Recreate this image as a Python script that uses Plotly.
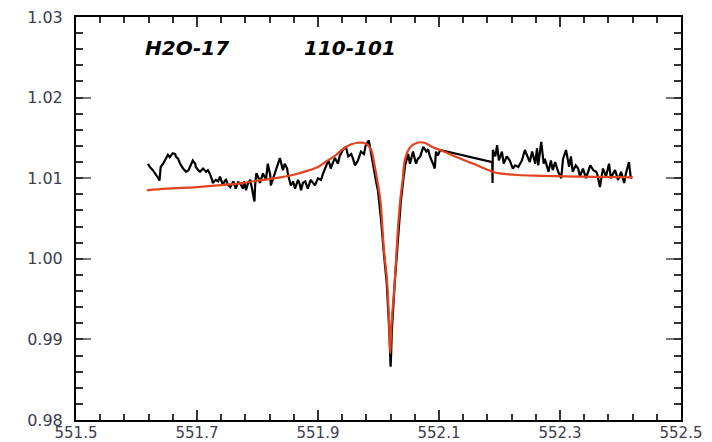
import plotly.graph_objects as go

# Observed spectrum (black)
obs_x = [
    551.619, 551.622, 551.627, 551.631, 551.636, 551.638, 551.640, 551.644, 551.647, 551.652,
    551.655, 551.660, 551.664, 551.665, 551.669, 551.672, 551.677, 551.682, 551.686, 551.688,
    551.693, 551.697, 551.698, 551.702, 551.705, 551.710, 551.715, 551.718, 551.721, 551.725,
    551.726, 551.731, 551.735, 551.738, 551.743, 551.746, 551.748, 551.751, 551.755, 551.760,
    551.764, 551.768, 551.771, 551.776, 551.778, 551.781, 551.784, 551.788, 551.791, 551.793,
    551.795, 551.796, 551.798, 551.802, 551.804, 551.809, 551.814, 551.817, 551.821, 551.822,
    551.826, 551.829, 551.834, 551.837, 551.840, 551.842, 551.845, 551.849, 551.850, 551.855,
    551.859, 551.862, 551.867, 551.870, 551.872, 551.875, 551.879, 551.883, 551.888, 551.892,
    551.895, 551.900, 551.905, 551.908, 551.912, 551.917, 551.920, 551.921, 551.925, 551.928,
    551.933, 551.936, 551.941, 551.946, 551.950, 551.955, 551.958, 551.961, 551.966, 551.971,
    551.976, 551.979, 551.984, 551.986, 551.988, 551.991, 551.993, 551.996,
    551.999, 552.004, 552.009, 552.0136, 552.018, 552.0195, 552.0200, 552.0208, 552.022, 552.027,
    552.033, 552.037, 552.041,
    552.044, 552.049, 552.052, 552.057, 552.062, 552.065, 552.069, 552.074, 552.079, 552.082,
    552.085, 552.090, 552.093, 552.095, 552.098, 552.102,
    552.188, 552.1885, 552.189, 552.193, 552.196, 552.199, 552.204, 552.207, 552.212, 552.217,
    552.222, 552.226, 552.231, 552.234, 552.237, 552.242, 552.247, 552.250, 552.254, 552.259,
    552.262, 552.264, 552.269, 552.273, 552.275, 552.281, 552.285, 552.288, 552.292, 552.297,
    552.302, 552.305, 552.310, 552.315, 552.318, 552.321, 552.326, 552.330, 552.333, 552.338,
    552.343, 552.346, 552.350, 552.355, 552.360, 552.362, 552.366, 552.371, 552.376, 552.381,
    552.384, 552.388, 552.391, 552.396, 552.401, 552.406, 552.409, 552.414, 552.417, 552.419,
]
obs_y = [
    1.0118, 1.0114, 1.0110, 1.0106, 1.0100, 1.0097, 1.0114, 1.0118, 1.0122, 1.0129,
    1.0126, 1.0131, 1.0130, 1.0127, 1.0124, 1.0118, 1.0112, 1.0108, 1.0110, 1.0114,
    1.0122, 1.0118, 1.0114, 1.0110, 1.0108, 1.0112, 1.0108, 1.0110, 1.0106, 1.0098,
    1.0094, 1.0098, 1.0096, 1.0102, 1.0091, 1.0097, 1.0098, 1.0092, 1.0089, 1.0096,
    1.0087, 1.0095, 1.0094, 1.0087, 1.0096, 1.0085, 1.0093, 1.0098, 1.0086, 1.0077,
    1.0071, 1.0090, 1.0106, 1.0100, 1.0094, 1.0106, 1.0098, 1.0118, 1.0104, 1.0091,
    1.0100, 1.0108, 1.0118, 1.0125, 1.0116, 1.0110, 1.0118, 1.0112, 1.0106, 1.0091,
    1.0096, 1.0087, 1.0098, 1.0092, 1.0085, 1.0094, 1.0096, 1.0087, 1.0098, 1.0094,
    1.0091, 1.0100, 1.0098, 1.0105, 1.0112, 1.0122, 1.0116, 1.0112, 1.0120, 1.0125,
    1.0118, 1.0128, 1.0135, 1.0139, 1.0127, 1.0130, 1.0124, 1.0116, 1.0122, 1.0133,
    1.0130, 1.0141, 1.0147, 1.0138, 1.0130, 1.0115, 1.0108, 1.0096,
    1.0085, 1.0050, 1.0005, 0.9970, 0.9908, 0.9880, 0.9866, 0.9880, 0.9910, 0.9972,
    1.0034, 1.0072, 1.0098,
    1.0116, 1.0130, 1.0118, 1.0133, 1.0118, 1.0124, 1.0127, 1.0139, 1.0133, 1.0136,
    1.0127, 1.0118, 1.0112, 1.0133, 1.0128, 1.0135,
    1.0120, 1.0094, 1.0135, 1.0127, 1.0141, 1.0122, 1.0133, 1.0118, 1.0127, 1.0122,
    1.0112, 1.0116, 1.0114, 1.0118, 1.0122, 1.0135, 1.0127, 1.0120, 1.0133, 1.0118,
    1.0137, 1.0116, 1.0145, 1.0118, 1.0124, 1.0108, 1.0122, 1.0110, 1.0120, 1.0108,
    1.0100, 1.0124, 1.0135, 1.0114, 1.0127, 1.0108, 1.0116, 1.0112, 1.0102, 1.0112,
    1.0100, 1.0108, 1.0116, 1.0110, 1.0108, 1.0104, 1.0089, 1.0112, 1.0102, 1.0118,
    1.0100, 1.0106, 1.0110, 1.0098, 1.0108, 1.0094, 1.0106, 1.0120, 1.0100, 1.0102,
]

# Model fit (red)
fit_x = [
    551.617, 551.650, 551.700, 551.750, 551.776, 551.800, 551.830, 551.858, 551.886, 551.900,
    551.912, 551.930, 551.941, 551.955, 551.966, 551.975, 551.981, 551.988, 551.993, 551.998,
    552.003, 552.009, 552.014, 552.018, 552.0195, 552.021, 552.027, 552.032, 552.036, 552.040,
    552.044, 552.053, 552.064, 552.076, 552.088, 552.105, 552.130, 552.160, 552.189, 552.200,
    552.230, 552.270, 552.330, 552.420,
]
fit_y = [
    1.0085, 1.0087, 1.0089, 1.0092, 1.0094, 1.0097, 1.0100, 1.0104, 1.0110, 1.0114,
    1.0120, 1.0129, 1.0136, 1.0142, 1.0144, 1.0144, 1.0142, 1.0135, 1.0118, 1.0097,
    1.0073, 1.0011, 0.9974, 0.9912, 0.9883, 0.9912, 0.9974, 1.0036, 1.0073, 1.0098,
    1.0124, 1.0139, 1.0144, 1.0144, 1.0139, 1.0134, 1.0126, 1.0117, 1.0108, 1.0106,
    1.0104, 1.0103, 1.0102, 1.0101,
]

label_molecule = "H2O-17"
label_transition = "110-101"

X_RANGE = [551.5, 552.5]
Y_RANGE = [0.98, 1.03]

fig = go.Figure()
fig.add_trace(go.Scatter(x=obs_x, y=obs_y, mode="lines",
                         line=dict(color="black", width=2.2), showlegend=False))
fig.add_trace(go.Scatter(x=fit_x, y=fit_y, mode="lines", line_shape="spline",
                         line=dict(color="#e2421e", width=2.2), showlegend=False))

tickfont = dict(family="DejaVu Sans", size=16, color="#3c3c50")
xtickfont = dict(family="DejaVu Sans", size=15, color="#3c3c50")
common = dict(showgrid=False, zeroline=False, automargin=False)

fig.update_layout(
    xaxis=dict(range=X_RANGE, tick0=551.5, dtick=0.2, tickformat=".1f",
               ticks="inside", ticklen=10, tickwidth=1.5, tickcolor="#333",
               showline=True, linecolor="black", linewidth=2, mirror="ticks",
               tickfont=xtickfont, ticklabelstandoff=-2, **common),
    yaxis=dict(range=Y_RANGE, tick0=0.98, dtick=0.01, tickformat=".2f",
               ticks="inside", ticklen=15, tickwidth=1.5, tickcolor="#777",
               showline=True, linecolor="black", linewidth=2, mirror="ticks",
               tickfont=tickfont, ticklabelstandoff=8, **common),
    # minor tick axes (no labels)
    xaxis2=dict(range=X_RANGE, overlaying="x", anchor="y", side="bottom",
                tick0=551.5, dtick=0.04, ticks="inside", ticklen=6, tickwidth=1.5,
                tickcolor="#333", showticklabels=False, showline=False, mirror="ticks",
                **common),
    yaxis2=dict(range=Y_RANGE, overlaying="y", anchor="x", side="left",
                tick0=0.98, dtick=0.002, ticks="inside", ticklen=7, tickwidth=1.5,
                tickcolor="#333", showticklabels=False, showline=False, mirror="ticks",
                **common),
)
# invisible trace to activate the minor-tick axes
fig.add_trace(go.Scatter(x=[X_RANGE[0]], y=[Y_RANGE[0]], xaxis="x2", yaxis="y2",
                         mode="markers", marker=dict(opacity=0), showlegend=False,
                         hoverinfo="skip"))

annfont = dict(family="DejaVu Sans", size=20, color="black", weight="bold", style="italic")
fig.add_annotation(x=551.683, y=1.0262, text=label_molecule, showarrow=False, font=annfont)
fig.add_annotation(x=551.953, y=1.0262, text=label_transition, showarrow=False, font=annfont)

fig.update_layout(width=712, height=442, margin=dict(l=76, r=31, t=17, b=22),
                  paper_bgcolor="white", plot_bgcolor="white")
fig.write_html("out.html")
